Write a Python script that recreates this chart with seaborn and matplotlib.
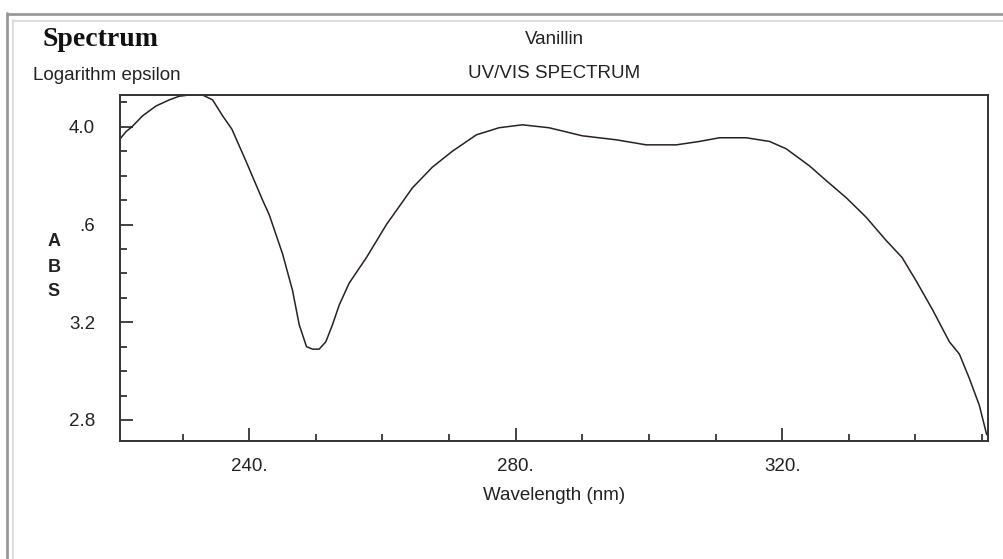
import pandas as pd
import seaborn as sns
import matplotlib.pyplot as plt
from matplotlib.lines import Line2D
from matplotlib.ticker import MultipleLocator

# Vanillin UV/VIS spectrum
wavelength = [220.6, 221.5, 222.4, 224.0, 226.0, 228.0, 229.5, 231.0, 233.0, 234.5,
              236.0, 237.4, 239.5, 242.0, 243.0, 245.0, 246.5, 247.5, 248.6, 249.5,
              250.5, 251.5, 252.5, 253.5, 255.0, 257.6, 260.6, 264.5, 267.5, 270.5,
              274.1, 277.5, 281.0, 285.0, 290.0, 295.0, 299.6, 304.1, 307.6, 310.6,
              314.6, 318.1, 320.6, 324.1, 326.6, 329.6, 332.6, 335.6, 338.0, 340.1,
              342.6, 345.1, 346.6, 348.1, 349.6, 350.7]
log_eps = [3.95, 3.98, 4.00, 4.045, 4.085, 4.11, 4.125, 4.13, 4.13, 4.11,
           4.045, 3.99, 3.86, 3.70, 3.64, 3.48, 3.33, 3.19, 3.10, 3.09,
           3.09, 3.12, 3.19, 3.27, 3.36, 3.465, 3.60, 3.75, 3.835, 3.90,
           3.967, 3.996, 4.008, 3.996, 3.963, 3.947, 3.926, 3.926, 3.94, 3.955,
           3.955, 3.94, 3.91, 3.84, 3.78, 3.71, 3.63, 3.535, 3.465, 3.37,
           3.25, 3.12, 3.07, 2.97, 2.86, 2.74]

x_ticks = [240, 280, 320]
x_labels = ["240.", "280.", "320."]
y_ticks = [2.8, 3.2, 3.6, 4.0]
y_labels = ["2.8", "3.2", ".6", "4.0"]

df = pd.DataFrame({"wl": wavelength, "abs": log_eps})

sns.set_theme(style="white")
plt.rcParams["font.family"] = ["Liberation Sans", "DejaVu Sans"]

W, H = 1004, 559
fs = 13.5
fig = plt.figure(figsize=(W / 100, H / 100), dpi=100)
ax = fig.add_axes([120 / W, 1 - 441 / H, 868 / W, 346 / H])

sns.lineplot(data=df, x="wl", y="abs", ax=ax, color="#2a2020", linewidth=1.1)

ax.set_xlim(220.6, 350.9)
ax.set_ylim(2.714, 4.13)
ax.set_xticks(x_ticks)
ax.set_xticklabels(x_labels)
ax.set_yticks(y_ticks)
ax.set_yticklabels(y_labels)
ax.xaxis.set_minor_locator(MultipleLocator(10))
ax.yaxis.set_minor_locator(MultipleLocator(0.1))
ax.tick_params(axis="both", which="major", direction="in", length=9.5, width=1.2,
               color="#222222", labelsize=fs, labelcolor="#222222")
ax.tick_params(axis="both", which="minor", direction="in", length=5, width=1.2,
               color="#222222")
ax.tick_params(axis="y", which="both", pad=18, left=True, right=False)
ax.tick_params(axis="x", which="both", pad=12, bottom=True, top=False)
ax.set_xlabel("")
ax.set_ylabel("")
for sp in ax.spines.values():
    sp.set_visible(True)
    sp.set_color("#333333")
    sp.set_linewidth(1.4)

# titles and labels
fig.text(43 / W, 1 - 40 / H, "Spectrum", family="Liberation Serif", weight="bold",
         fontsize=20, va="center", ha="left", color="#111111")
fig.text(554 / W, 1 - 39 / H, "Vanillin", fontsize=fs, ha="center", va="center",
         color="#222222")
fig.text(33 / W, 1 - 75 / H, "Logarithm epsilon", fontsize=fs, ha="left",
         va="center", color="#222222")
fig.text(554 / W, 1 - 74 / H, "UV/VIS SPECTRUM", fontsize=fs, ha="center",
         va="center", color="#222222")
fig.text(554 / W, 1 - 496 / H, "Wavelength (nm)", fontsize=fs, ha="center",
         va="center", color="#222222")
for ch, py in zip("ABS", [242, 267, 292]):
    fig.text(54 / W, 1 - py / H, ch, fontsize=13, weight="bold", ha="center",
             va="center", color="#222222")

# window frame
fig.add_artist(Line2D([7 / W, 1], [1 - 13.5 / H] * 2, color="#999999", lw=2))
fig.add_artist(Line2D([7.5 / W] * 2, [0, 1 - 13 / H], color="#999999", lw=2))
fig.add_artist(Line2D([13 / W, 1], [1 - 20.5 / H] * 2, color="#dddddd", lw=1.5))
fig.add_artist(Line2D([13.5 / W] * 2, [0, 1 - 20 / H], color="#dddddd", lw=1.5))

fig.savefig("out.png", dpi=100)
